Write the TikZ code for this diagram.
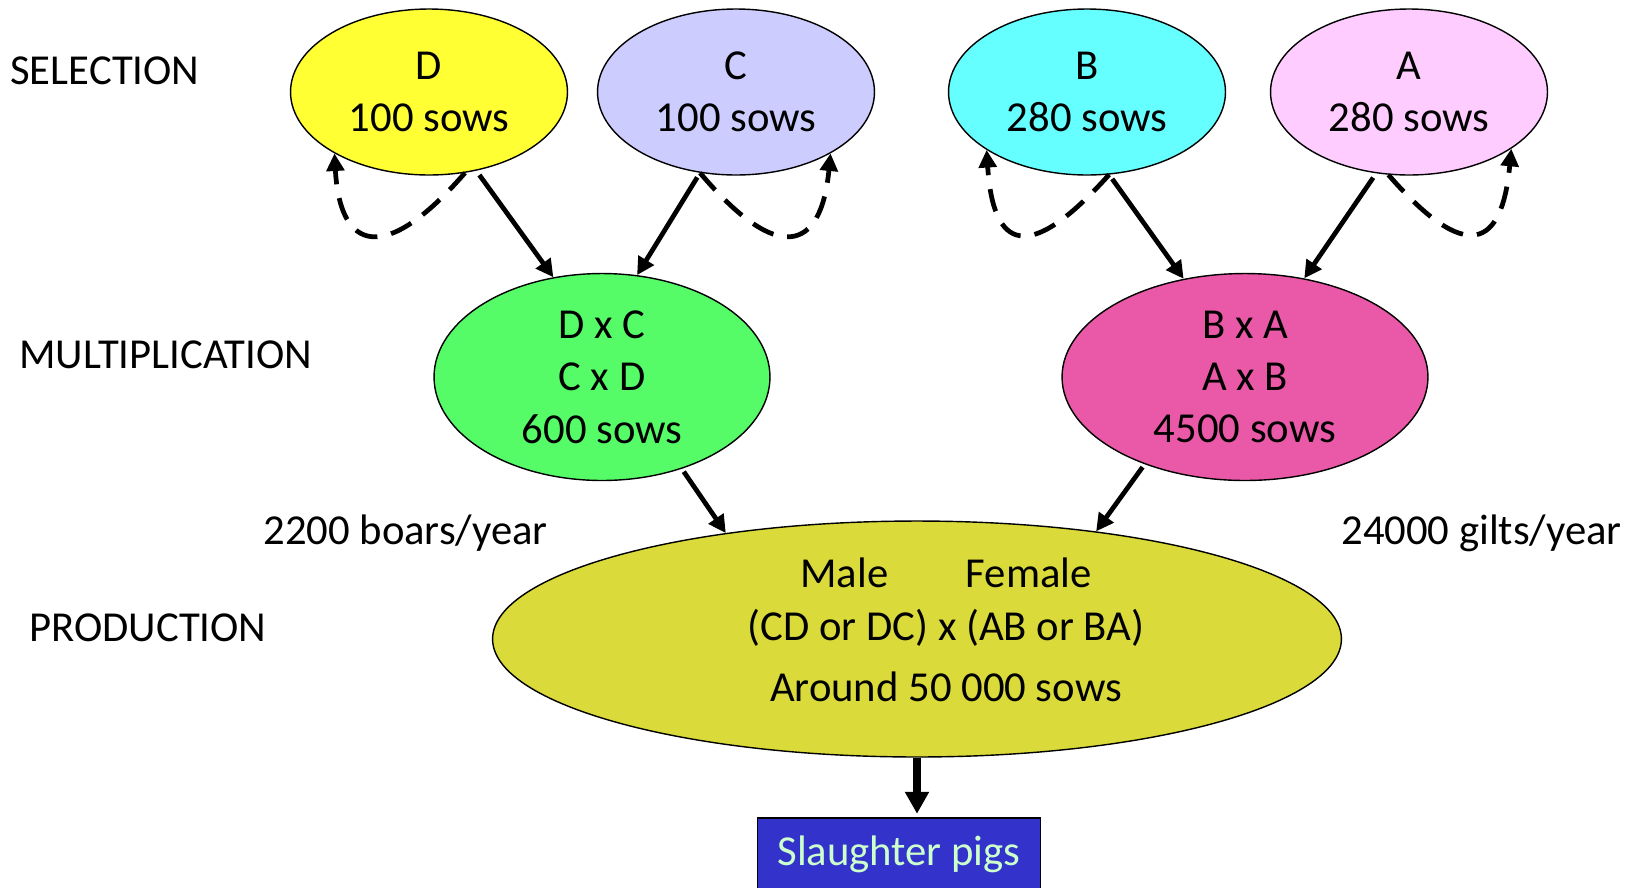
\documentclass[tikz,border=0pt]{standalone}
\usepackage{fontspec}
\setmainfont{Carlito}
\usetikzlibrary{shapes.geometric,arrows.meta}

\definecolor{lineD}{RGB}{255,255,51}
\definecolor{lineC}{RGB}{204,204,255}
\definecolor{lineB}{RGB}{102,255,255}
\definecolor{lineA}{RGB}{255,204,255}
\definecolor{crossDC}{RGB}{85,252,104}
\definecolor{crossBA}{RGB}{233,89,168}
\definecolor{prodyellow}{RGB}{218,218,59}
\definecolor{pigblue}{RGB}{51,51,204}
\definecolor{piggreen}{RGB}{204,255,204}

\begin{document}
\begin{tikzpicture}[x=0.02cm, y=-0.02cm, font=\fontsize{24.3}{29.8}\selectfont,
    pop/.style={draw, ellipse, line width=0.8pt, inner sep=0pt, align=center},
    sel/.style={pop, minimum width=5.54cm, minimum height=3.32cm},
    flow/.style={-{Triangle[length=10pt,width=10pt]}, line width=2.7pt},
    backflow/.style={flow, dash pattern=on 13pt off 8pt},
    stage/.style={anchor=base west, inner sep=0pt}]
    \useasboundingbox (0,0) rectangle (1633,887);

    % Stages
    \node[stage] (selection) at (10,84) {SELECTION};
    \node[stage] (multiplication) at (19,368) {MULTIPLICATION};
    \node[stage] (production) at (29,641) {PRODUCTION};

    % Selection herds
    \node[sel, fill=lineD] (d) at (429,92) {D\\100 sows};
    \node[sel, fill=lineC] (c) at (736,92) {C\\100 sows};
    \node[sel, fill=lineB] (b) at (1087,92) {B\\280 sows};
    \node[sel, fill=lineA] (a) at (1409,92) {A\\280 sows};

    % Multiplication herds
    \node[pop, fill=crossDC, minimum width=6.72cm, minimum height=4.14cm] (dxc) at (602,377) {D x C\\C x D\\600 sows};
    \node[pop, fill=crossBA, minimum width=7.32cm, minimum height=4.14cm] (bxa) at (1245,377) {B x A\\A x B\\4500 sows};

    % Production herd
    \node[pop, fill=prodyellow, minimum width=16.98cm, minimum height=4.72cm] (prod) at (917,639) {};
    \node[align=center, inner sep=0pt] (prodtext) at (946,630) {Male\hspace{1.55cm}Female\\(CD or DC) x (AB or BA)\\[5pt]Around 50 000 sows};
    \node[draw, line width=0.8pt, fill=pigblue, text=piggreen, minimum width=5.66cm, minimum height=1.44cm] (pigs) at (899,854) {Slaughter pigs};

    % Yearly numbers
    \node[stage] (boars) at (263,544) {2200 boars/year};
    \node[stage] (gilts) at (1341,544) {24000 gilts/year};

    % Flows
    \draw[flow, shorten <=3pt] (d.-59) -- (dxc.116);
    \draw[flow, shorten <=3pt] (c.246) -- (dxc.71);
    \draw[flow, shorten <=3pt] (b.-75) -- (bxa.122);
    \draw[flow, shorten <=3pt] (a.248) -- (bxa.59);
    \draw[flow, shorten <=2pt] (dxc.-49) -- (prod.151);
    \draw[flow, shorten <=2pt] (bxa.221) -- (prod.31);
    \draw[flow, line width=4pt, -{Triangle[length=12.5pt,width=13pt]}, shorten >=2pt] (prod.south) -- (prod.south |- pigs.north);

    % Replacement within lines
    \draw[backflow] (d.-66) .. controls (385,265) and (340,252) .. (d.213);
    \draw[backflow] (c.246) .. controls (778,265) and (821,252) .. (c.-33);
    \draw[backflow] (b.-75) .. controls (1028,265) and (993,250) .. (b.210);
    \draw[backflow] (a.256) .. controls (1467,265) and (1502,248) .. (a.-29);
\end{tikzpicture}
\end{document}
